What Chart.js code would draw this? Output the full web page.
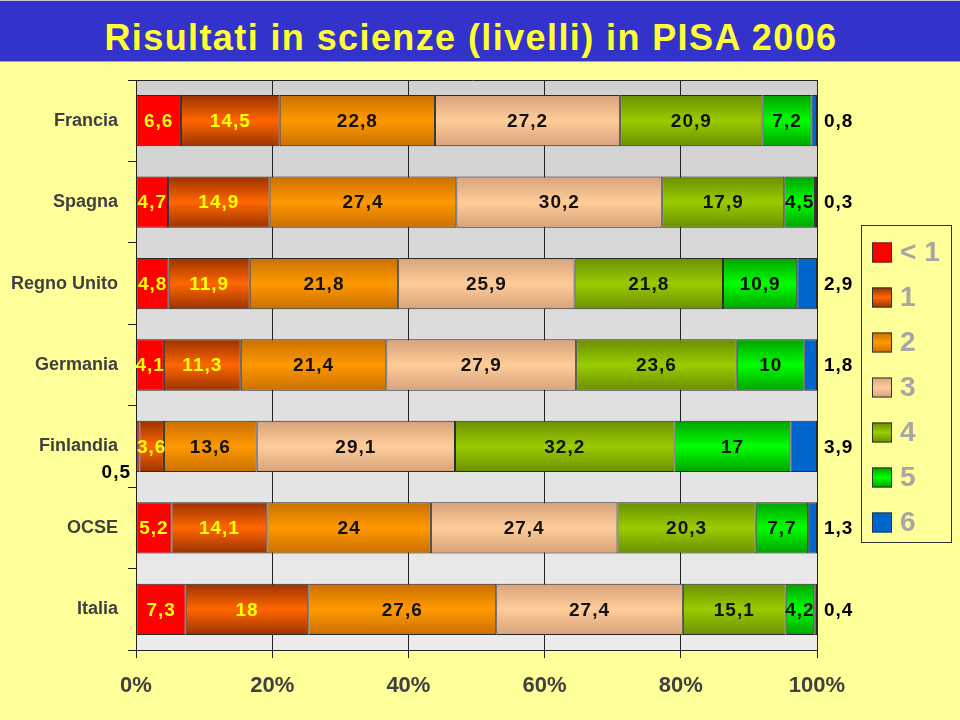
<!DOCTYPE html>
<html lang="it">
<head>
<meta charset="utf-8">
<title>Risultati in scienze (livelli) in PISA 2006</title>
<script src="https://cdn.jsdelivr.net/npm/chart.js@4.4.1/dist/chart.umd.min.js"></script>
<style>
  html, body { margin: 0; padding: 0; background: #ffff99; }
  #header {
    height: 60px;
    background: #3333cc;
    border-top: 1px solid #c8c8d8;
    border-bottom: 1px solid #9999cc;
    color: #ffff33;
    font: bold 36px "Liberation Sans", Arial, sans-serif;
    letter-spacing: 1.4px;
    text-align: center;
    line-height: 74px;
    padding-right: 18px;
    box-sizing: content-box;
    overflow: hidden;
  }
  #wrap { position: absolute; left: 0; top: 62px; width: 960px; height: 658px; }
</style>
</head>
<body>
<div id="header">Risultati in scienze (livelli) in PISA 2006</div>
<div id="wrap"><canvas id="pisaChart"></canvas></div>
<script>
// PISA 2006, scienze: % studenti per livello
const countries = ["Francia", "Spagna", "Regno Unito", "Germania", "Finlandia", "OCSE", "Italia"];
const levels = ["< 1", "1", "2", "3", "4", "5", "6"];
const below1 = [6.6, 4.7, 4.8, 4.1, 0.5, 5.2, 7.3];
const level1 = [14.5, 14.9, 11.9, 11.3, 3.6, 14.1, 18];
const level2 = [22.8, 27.4, 21.8, 21.4, 13.6, 24, 27.6];
const level3 = [27.2, 30.2, 25.9, 27.9, 29.1, 27.4, 27.4];
const level4 = [20.9, 17.9, 21.8, 23.6, 32.2, 20.3, 15.1];
const level5 = [7.2, 4.5, 10.9, 10, 17, 7.7, 4.2];
const level6 = [0.8, 0.3, 2.9, 1.8, 3.9, 1.3, 0.4];
const xTicks = [0, 20, 40, 60, 80, 100];

const series = [below1, level1, level2, level3, level4, level5, level6];
const centerColors = ["#ff0000", "#ff6600", "#ff9900", "#ffcc99", "#99cc00", "#00ff00", "#0066cc"];
const edgeColors   = ["#ff0000", "#9a3300", "#c96f00", "#d6a37c", "#6a8f00", "#00a200", "#0066cc"];
const labelColors  = ["#ffff00", "#ffff00", "#111", "#111", "#111", "#111", "#111"];

// 100% stacked, like the original spreadsheet chart
const totals = countries.map((c, i) => series.reduce((s, arr) => s + arr[i], 0));

const CAT_PCT = 0.63;

function shade(ctx, edge, center, y0, y1) {
  const g = ctx.createLinearGradient(0, y0, 0, y1);
  g.addColorStop(0, edge);
  g.addColorStop(0.5, center);
  g.addColorStop(1, edge);
  return g;
}

function barFill(context) {
  const lvl = context.datasetIndex;
  const chart = context.chart;
  const y = chart.scales && chart.scales.y;
  if (context.type !== "data" || !y || !isFinite(y._length) || y._length <= 0) return centerColors[lvl];
  const step = y._length / countries.length;
  const yc = y.getPixelForValue(context.dataIndex);
  const half = step * CAT_PCT / 2;
  if (!isFinite(yc) || !isFinite(half)) return centerColors[lvl];
  return shade(chart.ctx, edgeColors[lvl], centerColors[lvl], yc - half, yc + half);
}

const plotBg = {
  id: "plotBg",
  beforeDraw(chart) {
    const { ctx, chartArea: a } = chart;
    const g = ctx.createLinearGradient(0, a.top, 0, a.bottom);
    g.addColorStop(0, "#d0d0d0");
    g.addColorStop(1, "#ececec");
    ctx.save();
    ctx.fillStyle = g;
    ctx.fillRect(a.left, a.top, a.right - a.left, a.bottom - a.top);
    ctx.restore();
  },
  beforeDatasetsDraw(chart) {
    const { ctx, chartArea: a } = chart;
    ctx.save();
    ctx.strokeStyle = "#222";
    ctx.lineWidth = 1;
    ctx.beginPath();
    ctx.moveTo(a.left - 8, Math.round(a.top) + 0.5);
    ctx.lineTo(a.right, Math.round(a.top) + 0.5);
    ctx.stroke();
    ctx.restore();
  }
};

const barLabels = {
  id: "barLabels",
  afterDatasetsDraw(chart) {
    const { ctx, chartArea: a } = chart;
    ctx.save();
    ctx.font = "bold 19px 'Liberation Sans', Arial, sans-serif";
    ctx.letterSpacing = "1px";
    ctx.textBaseline = "middle";
    chart.data.datasets.forEach((ds, di) => {
      const meta = chart.getDatasetMeta(di);
      meta.data.forEach((bar, i) => {
        const raw = series[di][i];
        const txt = String(raw).replace(".", ",");
        let x = (bar.x + bar.base) / 2;
        let y = bar.y;
        let align = "center";
        let color = labelColors[di];
        if (di === series.length - 1) {
          x = a.right + 7;
          align = "left";
          color = "#000";
        } else if (raw < 1) {
          x = a.left - 5;
          y = bar.y + bar.height / 2;
          align = "right";
          color = "#000";
        }
        ctx.textAlign = align;
        ctx.fillStyle = color;
        ctx.fillText(txt, x, y + 1);
      });
    });
    ctx.restore();
  }
};

const boxLegend = {
  id: "boxLegend",
  afterDraw(chart) {
    const ctx = chart.ctx;
    const left = 861.5, top = 163.5, w = 90, h = 317;
    ctx.save();
    ctx.strokeStyle = "#333";
    ctx.lineWidth = 1;
    ctx.strokeRect(left, top, w, h);
    ctx.font = "bold 28px 'Liberation Sans', Arial, sans-serif";
    ctx.textBaseline = "middle";
    ctx.textAlign = "left";
    levels.forEach((lab, i) => {
      const yc = top + 27 + i * 45;
      ctx.fillStyle = shade(ctx, edgeColors[i], centerColors[i], yc - 10, yc + 10);
      ctx.fillRect(872, yc - 10, 20, 20);
      ctx.strokeStyle = "#333";
      ctx.strokeRect(872.5, yc - 9.5, 19, 19);
      ctx.fillStyle = "#a6a6a6";
      ctx.fillText(lab, 900, yc + 1);
    });
    ctx.restore();
  }
};

const ctx = document.getElementById("pisaChart").getContext("2d");
new Chart(ctx, {
  type: "bar",
  data: {
    labels: countries,
    datasets: series.map((arr, di) => ({
      label: levels[di],
      data: arr.map((v, i) => v / totals[i] * 100),
      backgroundColor: barFill,
      borderColor: "#2a2a2a",
      borderWidth: 1,
      borderSkipped: false,
      categoryPercentage: CAT_PCT,
      barPercentage: 1.0
    }))
  },
  options: {
    indexAxis: "y",
    responsive: true,
    maintainAspectRatio: false,
    animation: false,
    events: [],
    layout: { padding: { top: 18, right: 143, left: 0, bottom: 0 } },
    plugins: {
      legend: { display: false },
      tooltip: { enabled: false }
    },
    scales: {
      x: {
        stacked: true,
        min: 0,
        max: 100,
        afterBuildTicks: (s) => { s.ticks = xTicks.map(v => ({ value: v })); },
        afterFit: (s) => { s.height = 70; },
        ticks: {
          callback: (v) => v + "%",
          color: "#404040",
          padding: 15,
          maxRotation: 0,
          font: { family: "'Liberation Sans', Arial, sans-serif", size: 22, weight: "bold" }
        },
        grid: { color: "#222", lineWidth: 1, tickLength: 8 },
        border: { display: true, color: "#222" }
      },
      y: {
        stacked: true,
        afterFit: (s) => { s.width = 136; s.paddingTop = 0; s.paddingBottom = 0; },
        ticks: {
          color: "#404040",
          padding: 10,
          font: { family: "'Liberation Sans', Arial, sans-serif", size: 18, weight: "bold" }
        },
        grid: { drawOnChartArea: false, color: "#222", tickLength: 8, offset: true },
        border: { display: true, color: "#222" }
      }
    }
  },
  plugins: [plotBg, barLabels, boxLegend]
});
</script>
</body>
</html>
